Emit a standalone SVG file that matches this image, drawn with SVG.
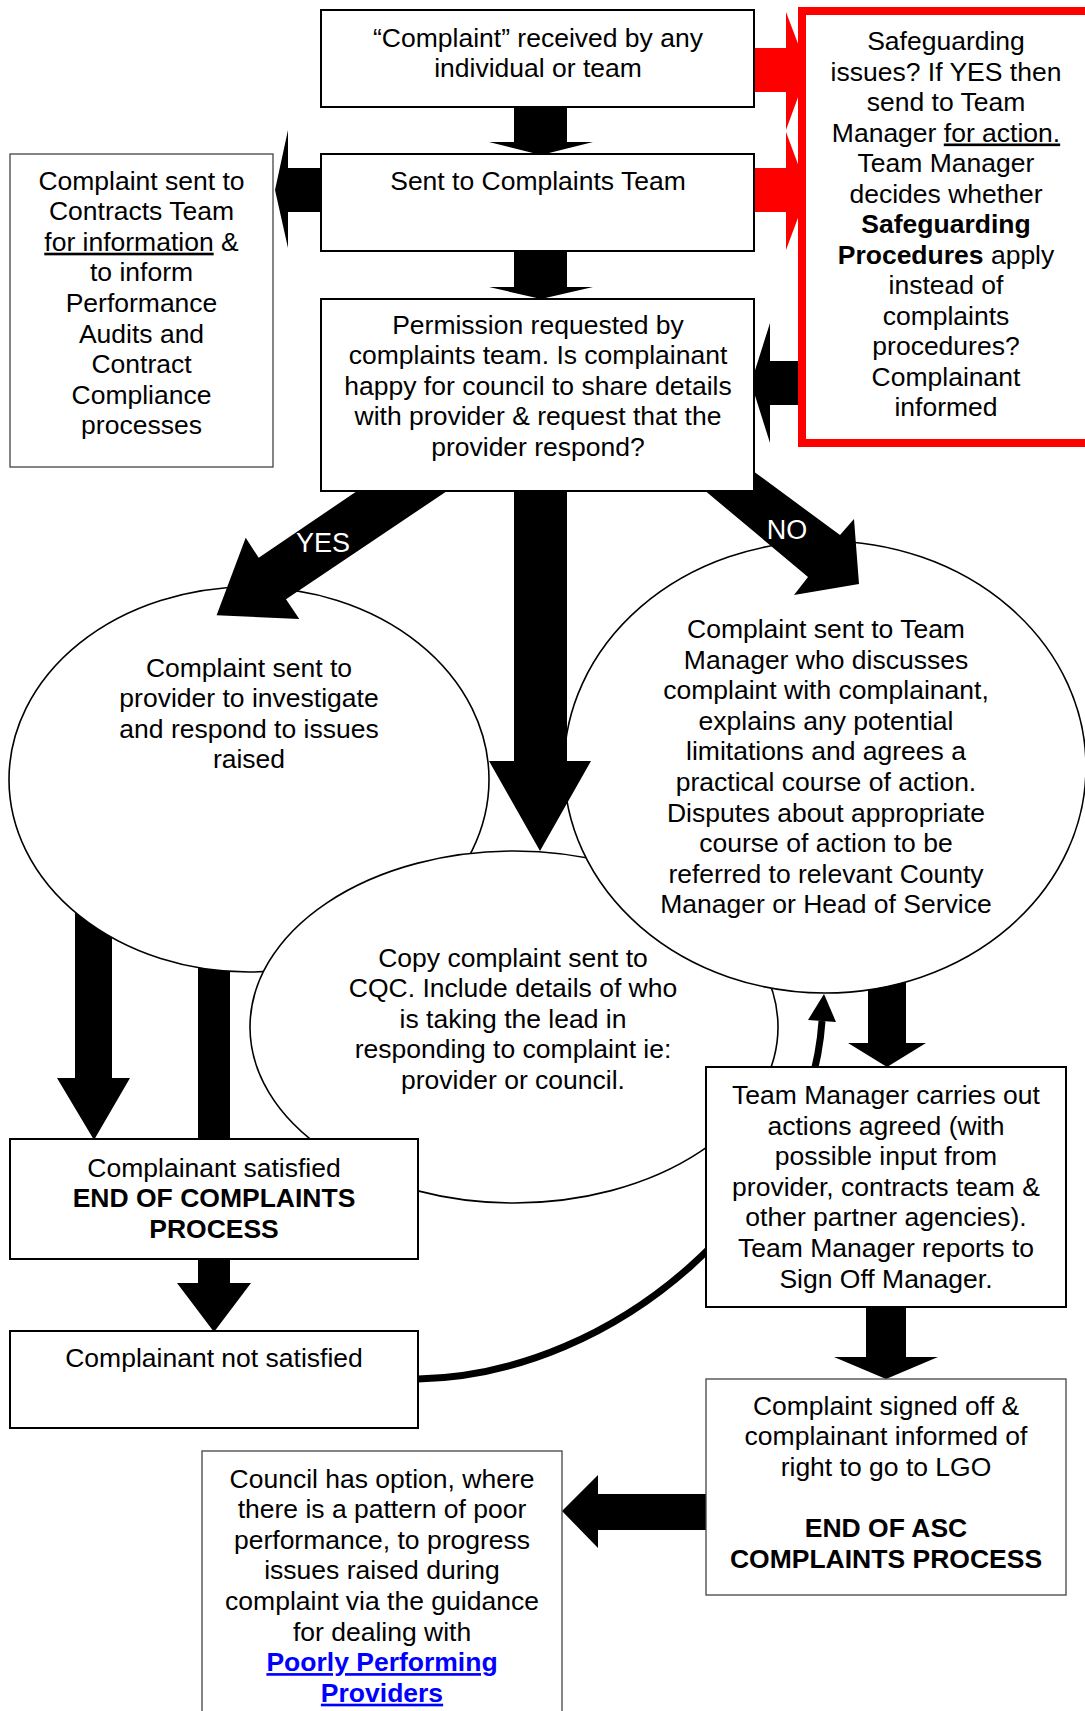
<svg xmlns="http://www.w3.org/2000/svg" width="1085" height="1711" viewBox="0 0 1085 1711">
<style>
 text { font-family: "Liberation Sans", Arial, Helvetica, sans-serif; font-size: 26.5px; fill: #000; text-anchor: middle; }
 .b { font-weight: bold; }
 .u { text-decoration: underline; }
 .box { fill: #fff; stroke: #000; stroke-width: 2; }
 .tbox { fill: #fff; stroke: #444; stroke-width: 1.3; }
 .ell { fill: #fff; stroke: #000; stroke-width: 1.6; }
 .arr { fill: #000; }
 .red { fill: #f00; }
 .lbl { fill: #fff; font-size: 27px; }
 .link { fill: #0000ff; font-weight: bold; text-decoration: underline; }
</style>

<g id="provider-ellipse">
 <ellipse class="ell" cx="249" cy="779.5" rx="240" ry="192.5"/>
 <text x="249" y="676.5">Complaint sent to</text>
 <text x="249" y="707">provider to investigate</text>
 <text x="249" y="737.5">and respond to issues</text>
 <text x="249" y="768">raised</text>
</g>

<g id="cqc-ellipse">
 <ellipse class="ell" cx="514" cy="1027" rx="264" ry="176"/>
 <text x="513" y="966.5">Copy complaint sent to</text>
 <text x="513" y="997">CQC. Include details of who</text>
 <text x="513" y="1027.5">is taking the lead in</text>
 <text x="513" y="1058">responding to complaint ie:</text>
 <text x="513" y="1088.5">provider or council.</text>
</g>

<g id="team-manager-ellipse">
 <ellipse class="ell" cx="825" cy="767" rx="261" ry="226"/>
 <text x="826" y="638">Complaint sent to Team</text>
 <text x="826" y="668.6">Manager who discusses</text>
 <text x="826" y="699.2">complaint with complainant,</text>
 <text x="826" y="729.8">explains any potential</text>
 <text x="826" y="760.4">limitations and agrees a</text>
 <text x="826" y="791">practical course of action.</text>
 <text x="826" y="821.6">Disputes about appropriate</text>
 <text x="826" y="852.2">course of action to be</text>
 <text x="826" y="882.8">referred to relevant County</text>
 <text x="826" y="913.4">Manager or Head of Service</text>
</g>

<g id="connectors">
 <!-- box1 -> box2 -->
 <polygon class="arr" points="514,105 567,105 567,142 593,142 541,155 489,142 514,142"/>
 <!-- box2 -> box3 -->
 <polygon class="arr" points="514,249 567,249 567,287 593,287 541,299 489,287 514,287"/>
 <!-- box2 -> contracts -->
 <polygon class="arr" points="323,168 288,168 288,130 275,190 288,248 288,212 323,212"/>
 <!-- red arrows into safeguarding -->
 <polygon class="red" points="753,48 786,48 786,12 808,70 786,130 786,92 753,92"/>
 <polygon class="red" points="753,168 786,168 786,132 808,191 786,250 786,212 753,212"/>
 <!-- safeguarding -> box3 -->
 <polygon class="arr" points="804,361 770,361 770,323 751,383 770,443 770,405 804,405"/>
 <!-- YES -->
 <polygon class="arr" points="360,489 258.7,557.8 245.7,537.8 216.6,615.3 299.3,619 286,599.2 450,489"/>
 <text class="lbl" x="323" y="552">YES</text>
 <!-- NO -->
 <polygon class="arr" points="703,489 753,489 753,471 840,535 854,519 859,584 794,595 808,577"/>
 <text class="lbl" x="787" y="539">NO</text>
 <!-- box3 -> CQC -->
 <polygon class="arr" points="514,489 567,489 567,761 591,761 540,851 489,761 514,761"/>
 <!-- provider -> satisfied -->
 <path class="arr" d="M75 912.1 A240 192.5 0 0 0 112 937.6 L112 1078 L130 1078 L94 1140 L57 1078 L75 1078 Z"/>
 <!-- provider -> satisfied (bar) -->
 <path class="arr" d="M198 967.6 A240 192.5 0 0 0 230 971.4 L230 1142 L198 1142 Z"/>
 <!-- satisfied -> not satisfied -->
 <polygon class="arr" points="198,1258 230,1258 230,1283 251,1283 214,1332 177,1283 198,1283"/>
 <!-- TM ellipse -> TM box -->
 <path class="arr" d="M868 989.9 A261 226 0 0 0 906 981.8 L906 1043 L926 1043 L887 1067 L848 1043 L868 1043 Z"/>
 <!-- TM box -> signed off -->
 <polygon class="arr" points="866,1306 906,1306 906,1357 938,1357 886,1379 834,1357 866,1357"/>
 <!-- signed off -> council -->
 <polygon class="arr" points="708,1494 598,1494 598,1475 562,1511 598,1548 598,1530 708,1530"/>
 <!-- not satisfied -> TM ellipse -->
 <path d="M418 1379 C620 1375 810 1200 822 1021" fill="none" stroke="#000" stroke-width="7"/>
 <polygon class="arr" points="824,994 836,1022 808,1020"/>
</g>

<g id="complaint-received">
 <rect class="box" x="321" y="10" width="433" height="97"/>
 <text x="538" y="46.5">“Complaint” received by any</text>
 <text x="538" y="77">individual or team</text>
</g>

<g id="complaints-team">
 <rect class="box" x="321" y="154" width="433" height="97"/>
 <text x="538" y="190">Sent to Complaints Team</text>
</g>

<g id="permission">
 <rect class="box" x="321" y="299" width="433" height="192"/>
 <text x="538" y="333.5">Permission requested by</text>
 <text x="538" y="364">complaints team. Is complainant</text>
 <text x="538" y="394.5">happy for council to share details</text>
 <text x="538" y="425">with provider &amp; request that the</text>
 <text x="538" y="455.5">provider respond?</text>
</g>

<g id="safeguarding">
 <rect x="802" y="11" width="300" height="432" fill="#fff" stroke="#f00" stroke-width="8"/>
 <text x="946" y="50">Safeguarding</text>
 <text x="946" y="80.5">issues? If YES then</text>
 <text x="946" y="111">send to Team</text>
 <text x="946" y="141.5">Manager <tspan class="u">for action.</tspan></text>
 <text x="946" y="172">Team Manager</text>
 <text x="946" y="202.5">decides whether</text>
 <text x="946" y="233" class="b">Safeguarding</text>
 <text x="946" y="263.5"><tspan class="b">Procedures</tspan> apply</text>
 <text x="946" y="294">instead of</text>
 <text x="946" y="324.5">complaints</text>
 <text x="946" y="355">procedures?</text>
 <text x="946" y="385.5">Complainant</text>
 <text x="946" y="416">informed</text>
</g>

<g id="contracts-team">
 <rect class="tbox" x="10" y="154" width="263" height="313"/>
 <text x="141.5" y="189.5">Complaint sent to</text>
 <text x="141.5" y="220.1">Contracts Team</text>
 <text x="141.5" y="250.7"><tspan class="u">for information</tspan> &amp;</text>
 <text x="141.5" y="281.3">to inform</text>
 <text x="141.5" y="311.9">Performance</text>
 <text x="141.5" y="342.5">Audits and</text>
 <text x="141.5" y="373.1">Contract</text>
 <text x="141.5" y="403.7">Compliance</text>
 <text x="141.5" y="434.3">processes</text>
</g>

<g id="satisfied">
 <rect class="box" x="10" y="1139" width="408" height="120"/>
 <text x="214" y="1176.5">Complainant satisfied</text>
 <text x="214" y="1207" class="b">END OF COMPLAINTS</text>
 <text x="214" y="1237.5" class="b">PROCESS</text>
</g>

<g id="not-satisfied">
 <rect class="box" x="10" y="1331" width="408" height="97"/>
 <text x="214" y="1366.5">Complainant not satisfied</text>
</g>

<g id="team-manager-actions">
 <rect class="box" x="706" y="1067" width="360" height="240"/>
 <text x="886" y="1104">Team Manager carries out</text>
 <text x="886" y="1134.6">actions agreed (with</text>
 <text x="886" y="1165.2">possible input from</text>
 <text x="886" y="1195.8">provider, contracts team &amp;</text>
 <text x="886" y="1226.4">other partner agencies).</text>
 <text x="886" y="1257">Team Manager reports to</text>
 <text x="886" y="1287.6">Sign Off Manager.</text>
</g>

<g id="signed-off">
 <rect class="tbox" x="706" y="1379" width="360" height="216"/>
 <text x="886" y="1414.5">Complaint signed off &amp;</text>
 <text x="886" y="1445">complainant informed of</text>
 <text x="886" y="1475.5">right to go to LGO</text>
 <text x="886" y="1537" class="b">END OF ASC</text>
 <text x="886" y="1567.5" class="b">COMPLAINTS PROCESS</text>
</g>

<g id="council-option">
 <rect class="tbox" x="202" y="1451" width="360" height="280"/>
 <text x="382" y="1487.5">Council has option, where</text>
 <text x="382" y="1518.1">there is a pattern of poor</text>
 <text x="382" y="1548.7">performance, to progress</text>
 <text x="382" y="1579.3">issues raised during</text>
 <text x="382" y="1609.9">complaint via the guidance</text>
 <text x="382" y="1640.5">for dealing with</text>
 <text x="382" y="1671.1" class="link">Poorly Performing</text>
 <text x="382" y="1701.7" class="link">Providers</text>
</g>
</svg>
